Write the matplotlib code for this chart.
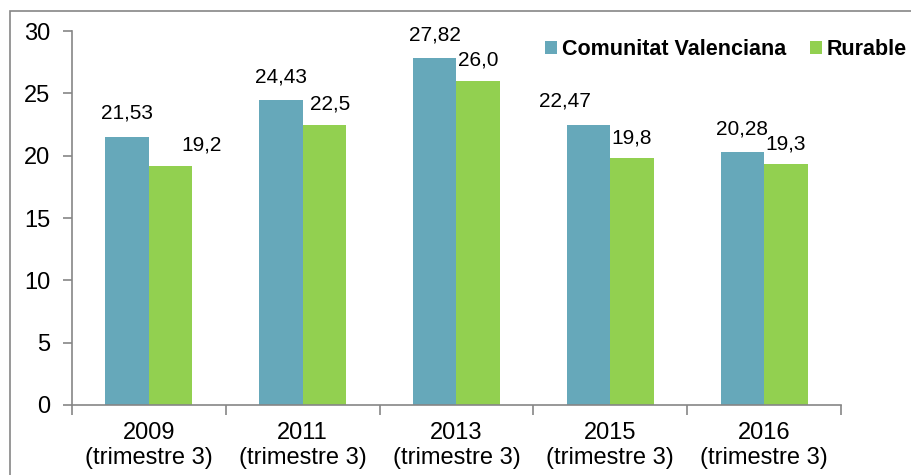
import matplotlib.pyplot as plt
import numpy as np
from matplotlib.patches import Rectangle

plt.rcParams['font.family'] = ['Liberation Sans', 'DejaVu Sans']

# data
years = ['2009', '2011', '2013', '2015', '2016']
cv = [21.53, 24.43, 27.82, 22.47, 20.28]
rur = [19.2, 22.5, 26.0, 19.8, 19.3]
cv_labels = ['21,53', '24,43', '27,82', '22,47', '20,28']
rur_labels = ['19,2', '22,5', '26,0', '19,8', '19,3']
# small horizontal nudges of some labels (points), as in the original
cv_nudge = [0, 0, 0, -17, 0]
rur_nudge = [22, 4, 0, 0, 0]

blue = '#66A8BA'
green = '#92D050'
grey = '#868686'

fig = plt.figure(figsize=(9.12, 4.75), dpi=100)
ax = fig.add_axes([0.0789, 0.1474, 0.8432, 0.7873])

# outer frame (cropped at right and bottom)
fig.add_artist(Rectangle((10 / 912, -0.2), 1.2, 1 - 11 / 475 + 0.2,
                         transform=fig.transFigure, fill=False,
                         edgecolor=grey, linewidth=1.2))

x = np.arange(len(years))
w = 0.283
b1 = ax.bar(x - w / 2, cv, w, color=blue, label='Comunitat Valenciana')
b2 = ax.bar(x + w / 2, rur, w, color=green, label='Rurable')

for i in range(len(years)):
    ax.annotate(cv_labels[i], (x[i] - w / 2, cv[i]), xytext=(cv_nudge[i], 10),
                textcoords='offset points', ha='center', va='bottom', fontsize=15)
    ax.annotate(rur_labels[i], (x[i] + w / 2, rur[i]), xytext=(rur_nudge[i], 8),
                textcoords='offset points', ha='center', va='bottom', fontsize=15)

ax.set_xlim(-0.5, len(years) - 0.5)
ax.set_ylim(0, 30)
ax.set_yticks(range(0, 31, 5))
ax.tick_params(axis='y', labelsize=17, color=grey, length=6.5, width=1.2, pad=9)

ax.set_xticks(np.arange(-0.5, len(years), 1))
ax.set_xticklabels([])
ax.set_xticks(x, minor=True)
ax.set_xticklabels([y + '\n(trimestre 3)' for y in years], minor=True, fontsize=17)
ax.tick_params(axis='x', which='major', color=grey, length=7, width=1.2)
ax.tick_params(axis='x', which='minor', length=0, pad=12)

for s in ['top', 'right']:
    ax.spines[s].set_visible(False)
for s in ['left', 'bottom']:
    ax.spines[s].set_color(grey)
    ax.spines[s].set_linewidth(1.2)

fig.legend(handles=[b1, b2], loc='center right', bbox_to_anchor=(1.016, 0.895),
           ncol=2, frameon=False, prop={'weight': 'bold', 'size': 15.5},
           handlelength=0.55, handleheight=0.55, handletextpad=0.25, columnspacing=1.1)

fig.savefig('out.png', dpi=100)
